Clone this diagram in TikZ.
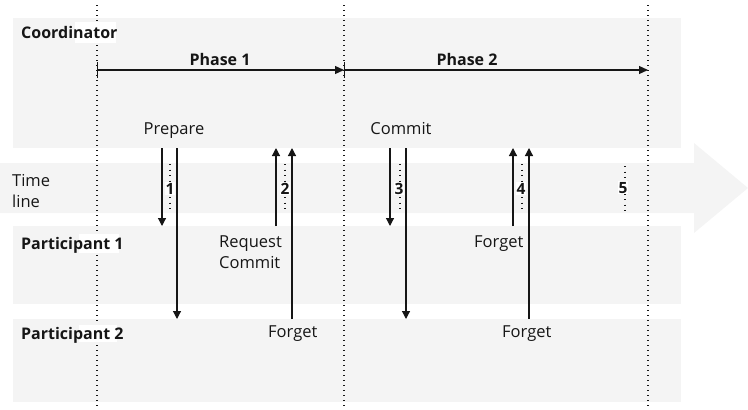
\documentclass[tikz,border=0pt]{standalone}
\usepackage{fontspec}
\setmainfont{Open Sans}
\usetikzlibrary{arrows.meta, positioning, calc}
\definecolor{bandgray}{RGB}{244,244,244}
\definecolor{ink}{RGB}{22,22,22}

\begin{document}
\begin{tikzpicture}[x=1pt, y=-1pt,
  band/.style={fill=bandgray, draw=none, inner sep=0pt, outer sep=0pt, anchor=north west, minimum width=668pt},
  lane/.style={font=\bfseries\fontsize{16}{19}\selectfont, text=ink, anchor=base west, inner sep=0pt},
  txt/.style={font=\fontsize{16.5}{21}\selectfont, text=ink, inner sep=0pt, align=left},
  num/.style={font=\bfseries\fontsize{15.5}{18}\selectfont, text=ink, fill=white, inner sep=0.8pt, anchor=base},
  guide/.style={draw=ink, line width=1.3pt, dash pattern=on 1.3pt off 3.7pt},
  tick/.style={draw=ink, line width=1.1pt, dash pattern=on 1.1pt off 4.4pt},
  msg/.style={draw=ink, line width=1.2pt, -{Triangle[length=8pt, width=8pt]}},
  phase/.style={draw=ink, line width=1.2pt, {Bar[width=16pt]}-{Triangle[length=9pt, width=8pt]}},
  mask/.style={fill=white}
]
  \useasboundingbox (0,0) rectangle (748,410);

  \node[band, minimum height=130pt] (coordband) at (13,18) {};
  \node[band, minimum height=78pt] (p1band) at (13,226) {};
  \node[band, minimum height=83pt] (p2band) at (13,319) {};
  \fill[bandgray] (0,163) -- (694,163) -- (694,143) -- (748,188) -- (694,233) -- (694,213) -- (0,213) -- cycle;

  \draw[guide] (97,5) -- (97,410);
  \draw[guide] (344,5) -- (344,410);
  \draw[guide] (648,5) -- (648,410);

  \fill[mask] (75,22) rectangle (116,43);
  \fill[mask] (79,234) rectangle (119,253);
  \fill[mask] (79,325) rectangle (117,342);

  \node[lane] (coordlbl) at (21,38) {Coordinator};
  \node[lane] (p1lbl) at (21,249) {Participant 1};
  \node[lane] (p2lbl) at (21,339) {Participant 2};
  \node[txt, anchor=north west] (timelbl) at (12,174.5) {Time\\line};

  \coordinate (g1) at (97,70);
  \coordinate (g2) at (344,70);
  \coordinate (g3) at (648,70);
  \draw[phase] (g1) -- (g2);
  \draw[phase] (g2) -- (g3);
  \node[lane, anchor=base] (ph1) at (220,65) {Phase 1};
  \node[lane, anchor=base] (ph2) at (467,65) {Phase 2};

  \node[txt, anchor=base] (prepare) at (174,134) {Prepare};
  \node[txt, anchor=base] (commit) at (401,134) {Commit};
  \node[txt, anchor=north west] (reqcommit) at (219,236) {Request\\Commit};
  \node[txt, anchor=base west] (forget2) at (268,337) {Forget};
  \node[txt, anchor=base west] (forget4a) at (474,247) {Forget};
  \node[txt, anchor=base west] (forget4b) at (502,337) {Forget};

  \coordinate (a1) at (162,0);
  \coordinate (b1) at (177,0);
  \coordinate (a2) at (276,0);
  \coordinate (b2) at (292,0);
  \coordinate (a3) at (390,0);
  \coordinate (b3) at (406,0);
  \coordinate (a4) at (513,0);
  \coordinate (b4) at (529,0);

  \draw[msg] (coordband.south -| a1) -- (p1band.north -| a1);
  \draw[msg] (coordband.south -| b1) -- (p2band.north -| b1);
  \draw[msg] (p1band.north -| a2) -- (coordband.south -| a2);
  \draw[msg] (p2band.north -| b2) -- (coordband.south -| b2);
  \draw[msg] (coordband.south -| a3) -- (p1band.north -| a3);
  \draw[msg] (coordband.south -| b3) -- (p2band.north -| b3);
  \draw[msg] (p1band.north -| a4) -- (coordband.south -| a4);
  \draw[msg] (p2band.north -| b4) -- (coordband.south -| b4);

  \draw[tick] (170,164) -- (170,212);
  \draw[tick] (285,164) -- (285,212);
  \draw[tick] (400,164) -- (400,212);
  \draw[tick] (522,164) -- (522,212);
  \draw[tick] (625,166) -- (625,212);
  \node[num] (n1) at (170,194) {1};
  \node[num] (n2) at (285,194) {2};
  \node[num] (n3) at (399,194) {3};
  \node[num] (n4) at (521,194) {4};
  \node[num] (n5) at (623,193) {5};
\end{tikzpicture}
\end{document}
